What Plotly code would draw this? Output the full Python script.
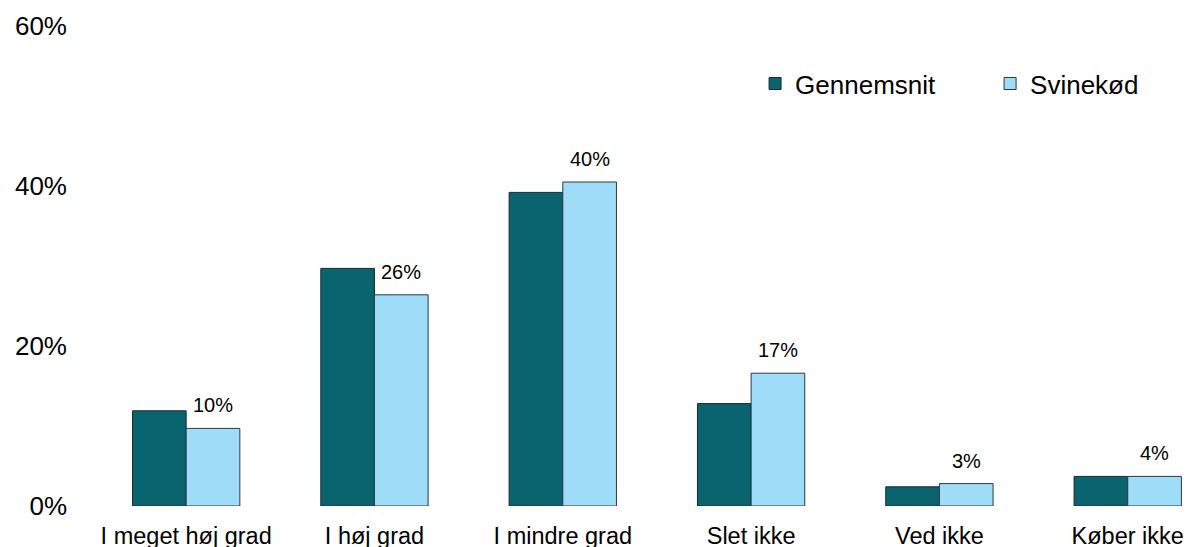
import plotly.graph_objects as go

categories = ["I meget høj grad", "I høj grad", "I mindre grad", "Slet ikke", "Ved ikke", "Køber ikke"]
gennemsnit = [11.9, 29.7, 39.2, 12.8, 2.4, 3.7]
svinekod = [9.7, 26.4, 40.5, 16.6, 2.8, 3.7]
svinekod_labels = ["10%", "26%", "40%", "17%", "3%", "4%"]
y_ticks = [0, 20, 40, 60]
y_tick_labels = ["0%", "20%", "40%", "60%"]

FONT = "Liberation Sans, Arial, sans-serif"

fig = go.Figure()
fig.add_trace(go.Bar(
    name="Gennemsnit", x=categories, y=gennemsnit,
    marker=dict(color="#0A6470", line=dict(color="#1a2a2e", width=1)),
))
fig.add_trace(go.Bar(
    name="Svinekød", x=categories, y=svinekod,
    marker=dict(color="#9FDCF7", line=dict(color="#2a3a40", width=1)),
))

for c, v, t in zip(categories, svinekod, svinekod_labels):
    fig.add_annotation(x=c, y=v, text=t, showarrow=False, xref="x", yref="y",
                       xanchor="center", yanchor="bottom", xshift=27, yshift=10,
                       font=dict(family=FONT, size=20, color="#000000"))

fig.update_layout(
    width=1188, height=547,
    margin=dict(l=92, r=0, t=26, b=41, autoexpand=False),
    paper_bgcolor="white", plot_bgcolor="white",
    barmode="group", bargap=0.43, bargroupgap=0,
    font=dict(family=FONT, color="#000000"),
    showlegend=True,
    legend=dict(orientation="h", x=0.605, y=0.88, xanchor="left", yanchor="middle",
                font=dict(family=FONT, size=26), entrywidth=190, traceorder="normal",
                bgcolor="rgba(0,0,0,0)"),
    xaxis=dict(range=[-0.5, 5.32], showgrid=False, showline=False, zeroline=False,
               automargin=False,
               tickfont=dict(family=FONT, size=23.5), ticklabelstandoff=13),
    yaxis=dict(range=[0, 60], tickvals=y_ticks, ticktext=y_tick_labels,
               showgrid=False, showline=False, zeroline=False, automargin=False,
               tickfont=dict(family=FONT, size=26), ticklabelstandoff=24),
)

fig.write_html("out.html",
               config={"displayModeBar": False},
               post_script="document.body.style.margin='0';document.body.style.overflow='hidden';")
